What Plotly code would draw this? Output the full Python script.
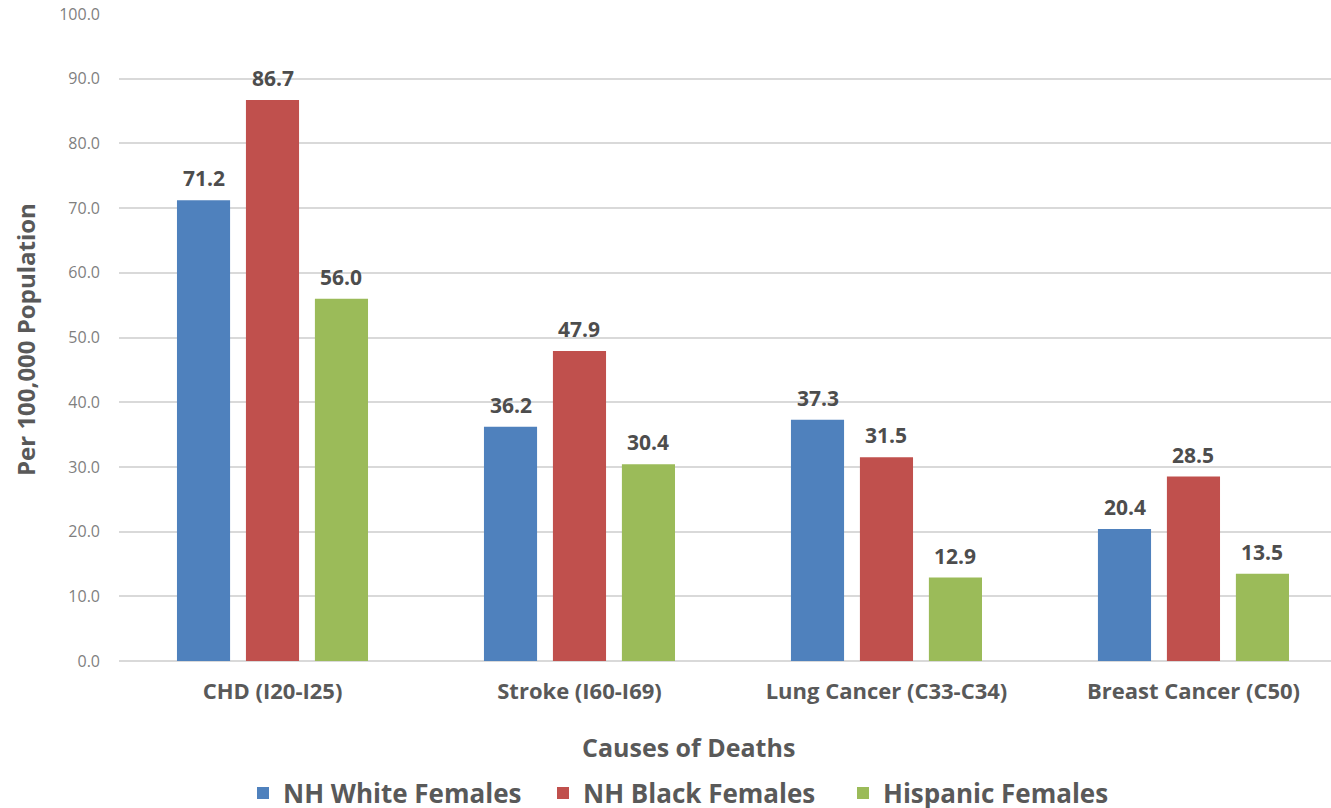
import plotly.graph_objects as go

causes = ["CHD (I20-I25)", "Stroke (I60-I69)", "Lung Cancer (C33-C34)", "Breast Cancer (C50)"]
nh_white = [71.2, 36.2, 37.3, 20.4]
nh_black = [86.7, 47.9, 31.5, 28.5]
hispanic = [56.0, 30.4, 12.9, 13.5]
y_ticks = [0, 10, 20, 30, 40, 50, 60, 70, 80, 90, 100]

series = [
    ("NH White Females", nh_white, "#4F81BD"),
    ("NH Black Females", nh_black, "#C0504D"),
    ("Hispanic Females", hispanic, "#9BBB59"),
]

FONT = "Open Sans"
BARGAP = 0.326
fig = go.Figure()
xpos = list(range(len(causes)))
for name, vals, color in series:
    fig.add_trace(go.Bar(
        x=xpos, y=vals, name=name,
        marker=dict(color=color, line=dict(width=0)),
    ))

# value labels above each bar, placed at the centre of its slot in the group
slot = (1 - BARGAP) / len(series)
annotations = []
for k, (name, vals, color) in enumerate(series):
    offset = (k - (len(series) - 1) / 2) * slot
    for i, v in enumerate(vals):
        annotations.append(dict(
            x=xpos[i] + offset, y=v, xref="x", yref="y",
            text=f"{v:.1f}", showarrow=False,
            xanchor="center", yanchor="middle", yshift=22,
            font=dict(family=FONT, size=21, color="#4d4d4d", weight="bold"),
        ))

annotations += [
    dict(text="Causes of Deaths", xref="paper", yref="paper",
         x=(688 - 119) / 1212, y=-(747 - 661) / 647, xanchor="center", yanchor="middle",
         showarrow=False,
         font=dict(family=FONT, size=25, color="#595959", weight="bold")),
    dict(text="Per 100,000 Population", xref="paper", yref="paper",
         x=-(119 - 25) / 1212, y=(661 - 340) / 647, xanchor="center", yanchor="middle",
         textangle=-90, showarrow=False,
         font=dict(family=FONT, size=24, color="#595959", weight="bold")),
]

fig.update_layout(
    width=1331, height=808,
    margin=dict(l=119, r=0, t=14, b=147, autoexpand=False),
    paper_bgcolor="white", plot_bgcolor="white",
    barmode="group", bargap=BARGAP, bargroupgap=0.23,
    font=dict(family=FONT),
    xaxis=dict(
        range=[-0.5, 3.448],
        tickmode="array", tickvals=xpos, ticktext=causes,
        tickfont=dict(family=FONT, size=22, color="#595959", weight="bold"),
        showgrid=False, showline=False, zeroline=False,
        ticks="", ticklabelstandoff=15,
    ),
    yaxis=dict(
        range=[0, 100],
        tickmode="array", tickvals=y_ticks,
        ticktext=[f"{t:.1f}" for t in y_ticks],
        tickfont=dict(family=FONT, size=16, color="#7f7f7f"),
        showgrid=True, gridcolor="#d9d9d9", gridwidth=1.5,
        zeroline=True, zerolinecolor="#d9d9d9", zerolinewidth=1.5,
        ticks="", ticklabelstandoff=18,
    ),
    legend=dict(
        orientation="h", x=243 / 1331, xanchor="left", xref="container",
        y=1 - 793 / 808, yanchor="middle", yref="container",
        font=dict(family=FONT, size=26, color="#595959", weight="bold"),
        itemwidth=30, traceorder="normal",
        entrywidth=255, entrywidthmode="pixels",
    ),
    showlegend=True,
    annotations=annotations,
)

fig.write_html("out.html")
